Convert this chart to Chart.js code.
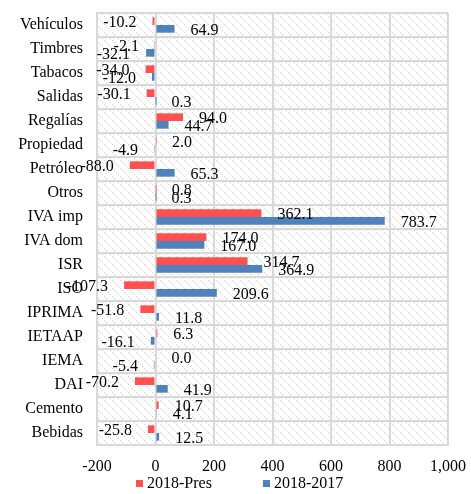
<!DOCTYPE html>
<html>
<head>
<meta charset="utf-8">
<script src="https://cdn.jsdelivr.net/npm/chart.js@4/dist/chart.umd.min.js"></script>
<style>
html,body{margin:0;padding:0;background:#fff;}
#wrap{width:471px;height:494px;}
</style>
</head>
<body>
<div id="wrap"><canvas id="c" width="471" height="494"></canvas></div>
<script>
const categories = ["Vehículos","Timbres","Tabacos","Salidas","Regalías","Propiedad","Petróleo","Otros","IVA imp","IVA dom","ISR","ISO","IPRIMA","IETAAP","IEMA","DAI","Cemento","Bebidas"];
const pres2018 = [-10.2,-2.1,-34.0,-30.1,94.0,2.0,-88.0,0.8,362.1,174.0,314.7,-107.3,-51.8,6.3,0.0,-70.2,10.7,-25.8];
const y2018_2017 = [64.9,-32.1,-12.0,0.3,44.7,-4.9,65.3,0.3,783.7,167.0,364.9,209.6,11.8,-16.1,-5.4,41.9,4.1,12.5];
const seriesNames = ["2018-Pres","2018-2017"];
const xTickLabels = {"-200":"-200","0":"0","200":"200","400":"400","600":"600","800":"800","1000":"1,000"};

const FONT = "'Liberation Serif','Times New Roman',serif";
const FS = 16;
const RED = '#FF5050';
const BLUE = '#4F81BD';
const GRID = '#d9d9d9';

// hatch pattern
const pc = document.createElement('canvas');
pc.width = 8; pc.height = 8;
const pctx = pc.getContext('2d');
pctx.fillStyle = '#fff';
pctx.fillRect(0,0,8,8);
pctx.fillStyle = '#d0d0d0';
for (let i = 0; i < 8; i += 2) pctx.fillRect(i, i, 1, 1);
let hatch = null;

const bgPlugin = {
  id: 'bg',
  beforeDraw(chart) {
    const {ctx, chartArea: a} = chart;
    if (!hatch) hatch = ctx.createPattern(pc, 'repeat');
    ctx.save();
    ctx.fillStyle = hatch;
    ctx.fillRect(a.left, a.top, a.right - a.left, a.bottom - a.top);
    ctx.restore();
  }
};

const labelPlugin = {
  id: 'vlabels',
  afterDatasetsDraw(chart) {
    const ctx = chart.ctx;
    ctx.save();
    ctx.font = FS + 'px ' + FONT;
    ctx.fillStyle = '#000';
    ctx.textBaseline = 'middle';
    chart.data.datasets.forEach((ds, di) => {
      const meta = chart.getDatasetMeta(di);
      meta.data.forEach((el, i) => {
        const v = ds.data[i];
        const txt = v.toFixed(1);
        if (v >= 0) {
          ctx.textAlign = 'left';
          ctx.fillText(txt, el.x + 16, el.y + 2);
        } else {
          ctx.textAlign = 'right';
          ctx.fillText(txt, el.x - 16, el.y + 2);
        }
      });
    });
    ctx.restore();
  }
};

const legendPlugin = {
  id: 'customLegend',
  afterDraw(chart) {
    const ctx = chart.ctx;
    ctx.save();
    ctx.font = FS + 'px ' + FONT;
    ctx.textBaseline = 'middle';
    ctx.textAlign = 'left';
    const xs = [136, 263];
    const y = 484;
    chart.data.datasets.forEach((ds, di) => {
      ctx.fillStyle = ds.backgroundColor;
      ctx.fillRect(xs[di], y - 4, 7, 7);
      ctx.fillStyle = '#000';
      ctx.fillText(ds.label, xs[di] + 11, y);
    });
    ctx.restore();
  }
};

new Chart(document.getElementById('c'), {
  type: 'bar',
  data: {
    labels: categories,
    datasets: [
      {label: seriesNames[0], data: pres2018, backgroundColor: RED, categoryPercentage: 0.64, barPercentage: 1.0},
      {label: seriesNames[1], data: y2018_2017, backgroundColor: BLUE, categoryPercentage: 0.64, barPercentage: 1.0}
    ]
  },
  options: {
    indexAxis: 'y',
    responsive: false,
    animation: false,
    devicePixelRatio: 1,
    layout: {padding: {top: 13, right: 23, bottom: 21, left: 0}},
    plugins: {
      legend: {display: false},
      tooltip: {enabled: false}
    },
    scales: {
      x: {
        min: -200, max: 1000,
        ticks: {
          stepSize: 200,
          color: '#000',
          font: {family: FONT, size: FS},
          padding: 12,
          maxRotation: 0,
          callback: (v) => xTickLabels[String(v)] ?? String(v)
        },
        grid: {color: GRID, lineWidth: 2, drawTicks: false},
        border: {color: GRID, width: 2},
        afterFit(scale) { scale.height = 28; scale.paddingLeft = 0; scale.paddingRight = 0; }
      },
      y: {
        ticks: {color: '#000', font: {family: FONT, size: FS}, padding: 14, autoSkip: false},
        grid: {color: GRID, lineWidth: 2, drawTicks: false, offset: true},
        border: {color: GRID, width: 2},
        afterFit(scale) { scale.width = 97; scale.paddingTop = 0; scale.paddingBottom = 0; }
      }
    }
  },
  plugins: [bgPlugin, labelPlugin, legendPlugin]
});
</script>
</body>
</html>
